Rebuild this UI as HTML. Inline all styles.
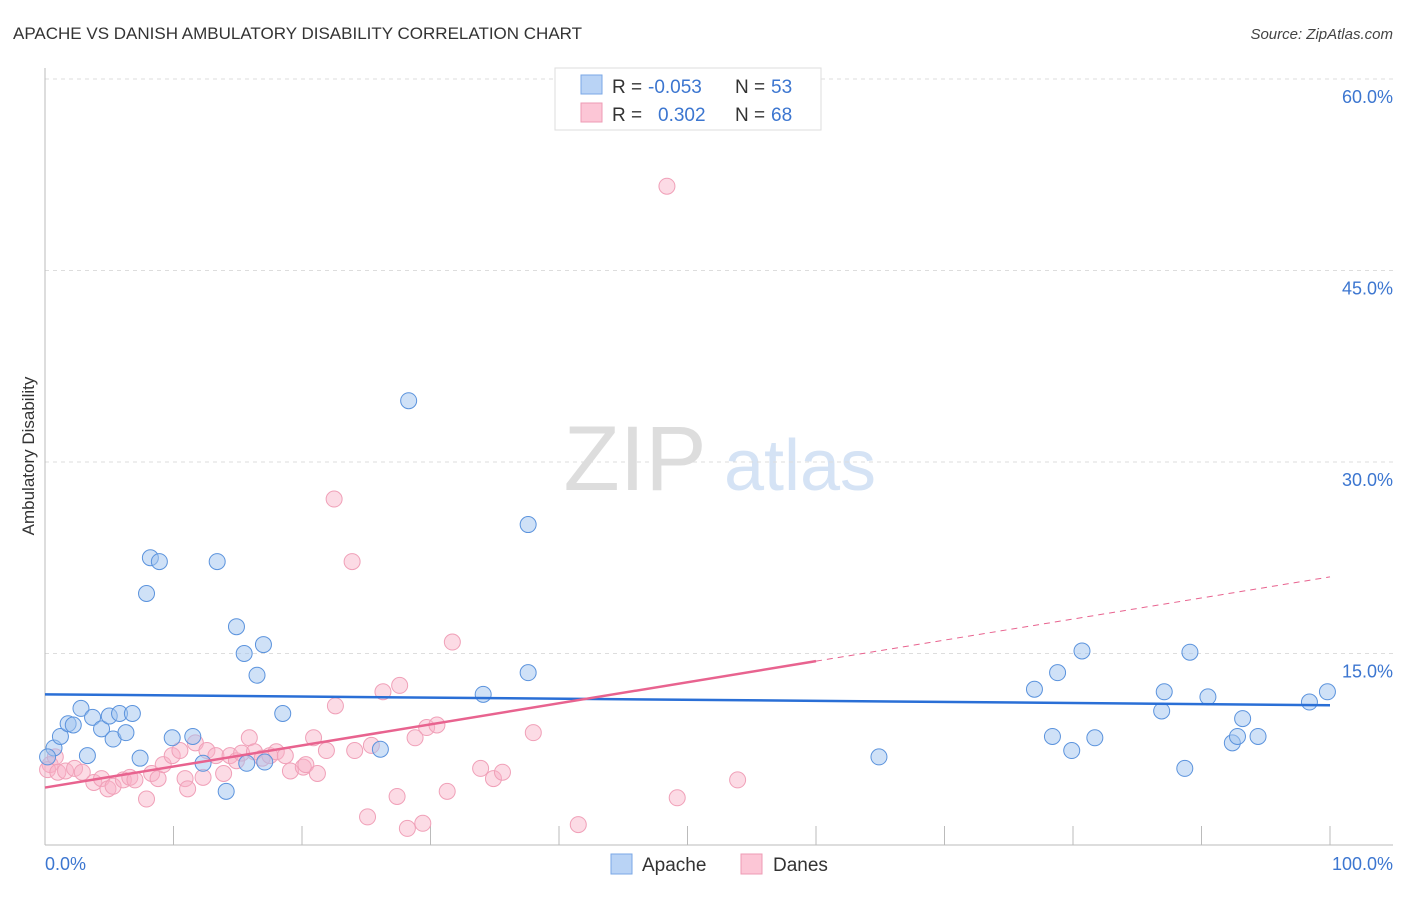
<!DOCTYPE html>
<html><head><meta charset="utf-8"><style>
body{margin:0;background:#fff;font-family:"Liberation Sans",sans-serif;}
svg text{font-family:"Liberation Sans",sans-serif;}
</style></head><body>
<svg id="chart" width="1406" height="892" viewBox="0 0 1406 892" xmlns="http://www.w3.org/2000/svg">
<text x="13" y="39" font-size="17" fill="#333">APACHE VS DANISH AMBULATORY DISABILITY CORRELATION CHART</text>
<text x="1393" y="39" font-size="15" fill="#444" text-anchor="end" font-style="italic">Source: ZipAtlas.com</text>
<g>
<text x="635" y="490" font-size="92" fill="#ddd" text-anchor="middle" font-family="Liberation Serif">ZIP</text>
<text x="800" y="490" font-size="72" fill="#d5e3f5" text-anchor="middle">atlas</text>
</g>
<g id="grid"></g>
<g id="axes"></g>
<g id="pts"></g>
<g id="trends"></g>
<text transform="translate(34,456) rotate(-90)" font-size="17" fill="#333" text-anchor="middle">Ambulatory Disability</text>
<g>
<rect x="555" y="68" width="266" height="62" fill="#fff" stroke="#ddd"/>
<rect x="581" y="75" width="21" height="19" fill="#b9d3f5" stroke="#7aa7e6"/>
<rect x="581" y="103" width="21" height="19" fill="#fcc6d6" stroke="#ee9bb4"/>
<text x="612" y="93" font-size="19" fill="#333">R =</text>
<text x="648" y="93" font-size="19" fill="#3c76d0">-0.053</text>
<text x="735" y="93" font-size="19" fill="#333">N =</text>
<text x="771" y="93" font-size="19" fill="#3c76d0">53</text>
<text x="612" y="121" font-size="19" fill="#333">R =</text>
<text x="658" y="121" font-size="19" fill="#3c76d0">0.302</text>
<text x="735" y="121" font-size="19" fill="#333">N =</text>
<text x="771" y="121" font-size="19" fill="#3c76d0">68</text>
</g>
<g>
<rect x="611" y="854" width="21" height="20" fill="#b9d3f5" stroke="#7aa7e6"/>
<text x="642" y="871" font-size="19" fill="#333">Apache</text>
<rect x="741" y="854" width="21" height="20" fill="#fcc6d6" stroke="#ee9bb4"/>
<text x="773" y="871" font-size="19" fill="#333">Danes</text>
</g>
</svg>
<script>
const yTicks=[15,30,45,60];
const yTickLabels=["15.0%","30.0%","45.0%","60.0%"];
const xTickLabels=["0.0%","100.0%"];
const apacheX=[0.7,0.2,1.2,1.8,2.2,2.8,3.7,3.3,4.4,5.0,5.3,5.8,6.3,6.8,7.4,7.9,8.2,8.9,9.9,11.5,12.3,13.4,14.1,14.9,15.5,15.7,16.5,17.0,17.1,18.5,26.1,28.3,34.1,37.6,37.6,64.9,77.0,78.4,78.8,79.9,80.7,81.7,86.9,87.1,88.7,89.1,90.5,92.4,92.8,93.2,94.4,98.4,99.8];
const apacheY=[7.6,6.9,8.5,9.5,9.4,10.7,10.0,7.0,9.1,10.1,8.3,10.3,8.8,10.3,6.8,19.7,22.5,22.2,8.4,8.5,6.4,22.2,4.2,17.1,15.0,6.4,13.3,15.7,6.5,10.3,7.5,34.8,11.8,25.1,13.5,6.9,12.2,8.5,13.5,7.4,15.2,8.4,10.5,12.0,6.0,15.1,11.6,8.0,8.5,9.9,8.5,11.2,12.0];
const danesX=[0.4,0.2,0.8,1.0,1.6,2.3,2.9,3.8,4.4,4.9,5.3,6.1,6.6,7.0,7.9,8.3,8.8,9.2,9.9,10.5,10.9,11.1,11.7,12.3,12.6,13.3,13.9,14.4,14.9,15.3,15.9,16.3,16.9,17.5,18.0,18.7,19.1,20.1,20.3,20.9,21.2,21.9,22.5,22.6,23.9,24.1,25.4,25.1,26.3,27.4,27.6,28.2,28.8,29.4,29.7,30.5,31.3,31.7,33.9,34.9,35.6,38.0,41.5,48.4,49.2,53.9];
const danesY=[6.3,5.9,6.9,5.7,5.8,6.0,5.7,4.9,5.2,4.4,4.6,5.1,5.3,5.1,3.6,5.6,5.2,6.3,7.0,7.4,5.2,4.4,8.0,5.3,7.4,7.0,5.6,7.0,6.6,7.2,8.4,7.3,6.8,7.0,7.3,7.0,5.8,6.1,6.3,8.4,5.6,7.4,27.1,10.9,22.2,7.4,7.8,2.2,12.0,3.8,12.5,1.3,8.4,1.7,9.2,9.4,4.2,15.9,6.0,5.2,5.7,8.8,1.6,51.6,3.7,5.1];
const apacheTrend=[11.8,10.95];
const danesTrend=[4.5,21.0];
const danesSolidEnd=60;
const NS="http://www.w3.org/2000/svg";
const X0=45,X1=1330,Y0=845,PX=(Y0-79)/60;
const sx=v=>X0+(X1-X0)*v/100, sy=v=>Y0-v*PX;
function mk(parent,tag,attrs){const e=document.createElementNS(NS,tag);for(const k in attrs)e.setAttribute(k,attrs[k]);document.getElementById(parent).appendChild(e);return e;}
yTicks.forEach((t,i)=>{
 const l=mk('grid','line',{x1:X0,x2:1393,y1:sy(t),y2:sy(t),stroke:'#ddd','stroke-dasharray':'4,4'});
 
 
 const tx=mk('grid','text',{x:1393,y:sy(t)+24,'font-size':18,fill:'#3c76d0','text-anchor':'end'});
 tx.textContent=yTickLabels[i];
 
 
});
let a=mk('axes','line',{x1:X0,x2:X0,y1:68,y2:Y0,stroke:'#bbb'});


a=mk('axes','line',{x1:X0,x2:1393,y1:Y0,y2:Y0,stroke:'#bbb'});


for(let i=1;i<=10;i++){const t=mk('axes','line',{x1:sx(i*10),x2:sx(i*10),y1:826,y2:Y0,stroke:'#bbb'});
 
 }
[[0,'start',45],[100,'end',1393]].forEach((p,i)=>{const t=mk('axes','text',{x:p[2],y:870,'font-size':18,fill:'#3c76d0','text-anchor':p[1]});t.textContent=xTickLabels[i];
 
 });
danesX.forEach((v,i)=>{const c=mk('pts','circle',{cx:sx(v),cy:sy(danesY[i]),r:8,fill:'rgba(248,175,197,0.45)',stroke:'#f0a0b8','stroke-width':1});
 
 });
apacheX.forEach((v,i)=>{const c=mk('pts','circle',{cx:sx(v),cy:sy(apacheY[i]),r:8,fill:'rgba(160,196,240,0.5)',stroke:'#5b93dd','stroke-width':1});
 
 });
let t=mk('trends','line',{x1:sx(0),y1:sy(apacheTrend[0]),x2:sx(100),y2:sy(apacheTrend[1]),stroke:'#2a6fd6','stroke-width':2.5});


const dAt=x=>danesTrend[0]+(danesTrend[1]-danesTrend[0])*x/100;
t=mk('trends','line',{x1:sx(0),y1:sy(dAt(0)),x2:sx(danesSolidEnd),y2:sy(dAt(danesSolidEnd)),stroke:'#e8638f','stroke-width':2.5});


t=mk('trends','line',{x1:sx(danesSolidEnd),y1:sy(dAt(danesSolidEnd)),x2:sx(100),y2:sy(dAt(100)),stroke:'#e8638f','stroke-width':1,'stroke-dasharray':'6,5'});


</script>
</body></html>
